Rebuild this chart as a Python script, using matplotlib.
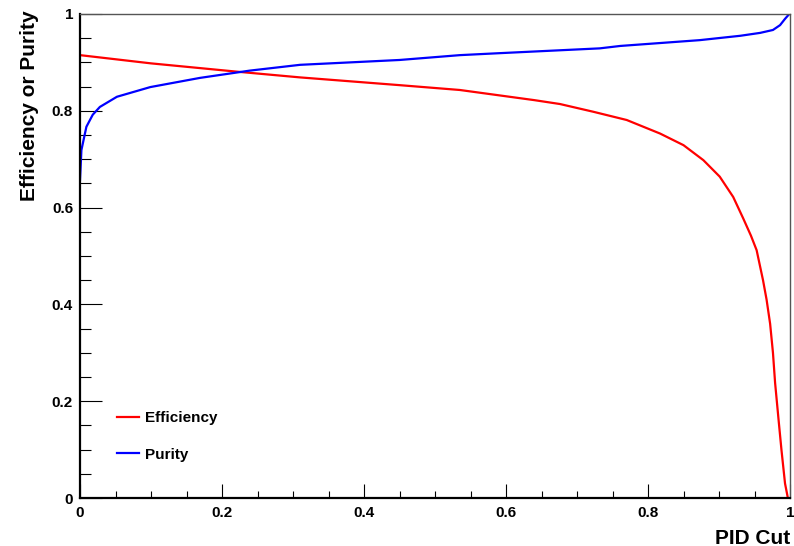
import matplotlib
matplotlib.use("Agg")
import matplotlib.pyplot as plt
from matplotlib.ticker import MultipleLocator, FormatStrFormatter

plt.rcParams["font.family"] = ["Liberation Sans", "DejaVu Sans"]
plt.rcParams["font.weight"] = "bold"

# values
eff_x = [0.0, 0.1, 0.22, 0.31, 0.45, 0.535, 0.64, 0.676, 0.723, 0.770, 0.817,
         0.850, 0.878, 0.901, 0.920, 0.934, 0.945, 0.953, 0.962, 0.967, 0.972,
         0.976, 0.979, 0.984, 0.988, 0.993, 0.997]
eff_y = [0.915, 0.898, 0.881, 0.869, 0.853, 0.843, 0.822, 0.814, 0.798, 0.781,
         0.753, 0.729, 0.698, 0.664, 0.622, 0.578, 0.542, 0.512, 0.45, 0.41,
         0.36, 0.30, 0.238, 0.16, 0.099, 0.03, 0.0]

pur_x = [0.0, 0.002, 0.009, 0.018, 0.028, 0.052, 0.099, 0.169, 0.239, 0.31,
         0.45, 0.535, 0.59, 0.732, 0.761, 0.873, 0.93, 0.958, 0.976, 0.986,
         0.993, 0.999]
pur_y = [0.657, 0.719, 0.767, 0.792, 0.808, 0.829, 0.849, 0.868, 0.883, 0.895,
         0.905, 0.915, 0.919, 0.929, 0.934, 0.946, 0.955, 0.961, 0.967, 0.977,
         0.99, 1.0]

fig = plt.figure(figsize=(7.94, 5.46), dpi=100)
ax = fig.add_axes([80 / 794, 48 / 546, 710 / 794, 484 / 546])

ax.plot(eff_x, eff_y, color="#ff0000", lw=1.6, label="Efficiency")
ax.plot(pur_x, pur_y, color="#0000ff", lw=1.6, label="Purity")

ax.set_xlim(0, 1)
ax.set_ylim(0, 1)

ax.xaxis.set_major_locator(MultipleLocator(0.2))
ax.xaxis.set_minor_locator(MultipleLocator(0.05))
ax.yaxis.set_major_locator(MultipleLocator(0.2))
ax.yaxis.set_minor_locator(MultipleLocator(0.05))
ax.xaxis.set_major_formatter(FormatStrFormatter("%g"))
ax.yaxis.set_major_formatter(FormatStrFormatter("%g"))

ax.tick_params(axis="both", which="both", direction="in", top=False, right=False,
               width=0.8, labelsize=11)
ax.tick_params(axis="y", which="major", length=16, pad=5)
ax.tick_params(axis="y", which="minor", length=8)
ax.tick_params(axis="x", which="major", length=10, pad=6)
ax.tick_params(axis="x", which="minor", length=5)
for lab in ax.get_xticklabels() + ax.get_yticklabels():
    lab.set_fontweight("bold")

for side in ("left", "bottom"):
    ax.spines[side].set_linewidth(1.6)
    ax.spines[side].set_color("black")
for side in ("top", "right"):
    ax.spines[side].set_linewidth(1.0)
    ax.spines[side].set_color("#555555")

ax.set_ylabel("Efficiency or Purity", fontsize=15, fontweight="bold")
ax.yaxis.set_label_coords(-50 / 710, 1.008)
ax.yaxis.label.set_horizontalalignment("right")
ax.yaxis.label.set_verticalalignment("center")
ax.set_xlabel("PID Cut", fontsize=15, fontweight="bold")
ax.xaxis.set_label_coords(1.0, -40 / 484)
ax.xaxis.label.set_horizontalalignment("right")
ax.xaxis.label.set_verticalalignment("center")

leg = ax.legend(loc="lower left", bbox_to_anchor=(0.033, 0.047), frameon=False,
                handlelength=1.45, handletextpad=0.35, labelspacing=1.45,
                prop={"weight": "bold", "size": 11})

fig.savefig("out.png", dpi=100)
